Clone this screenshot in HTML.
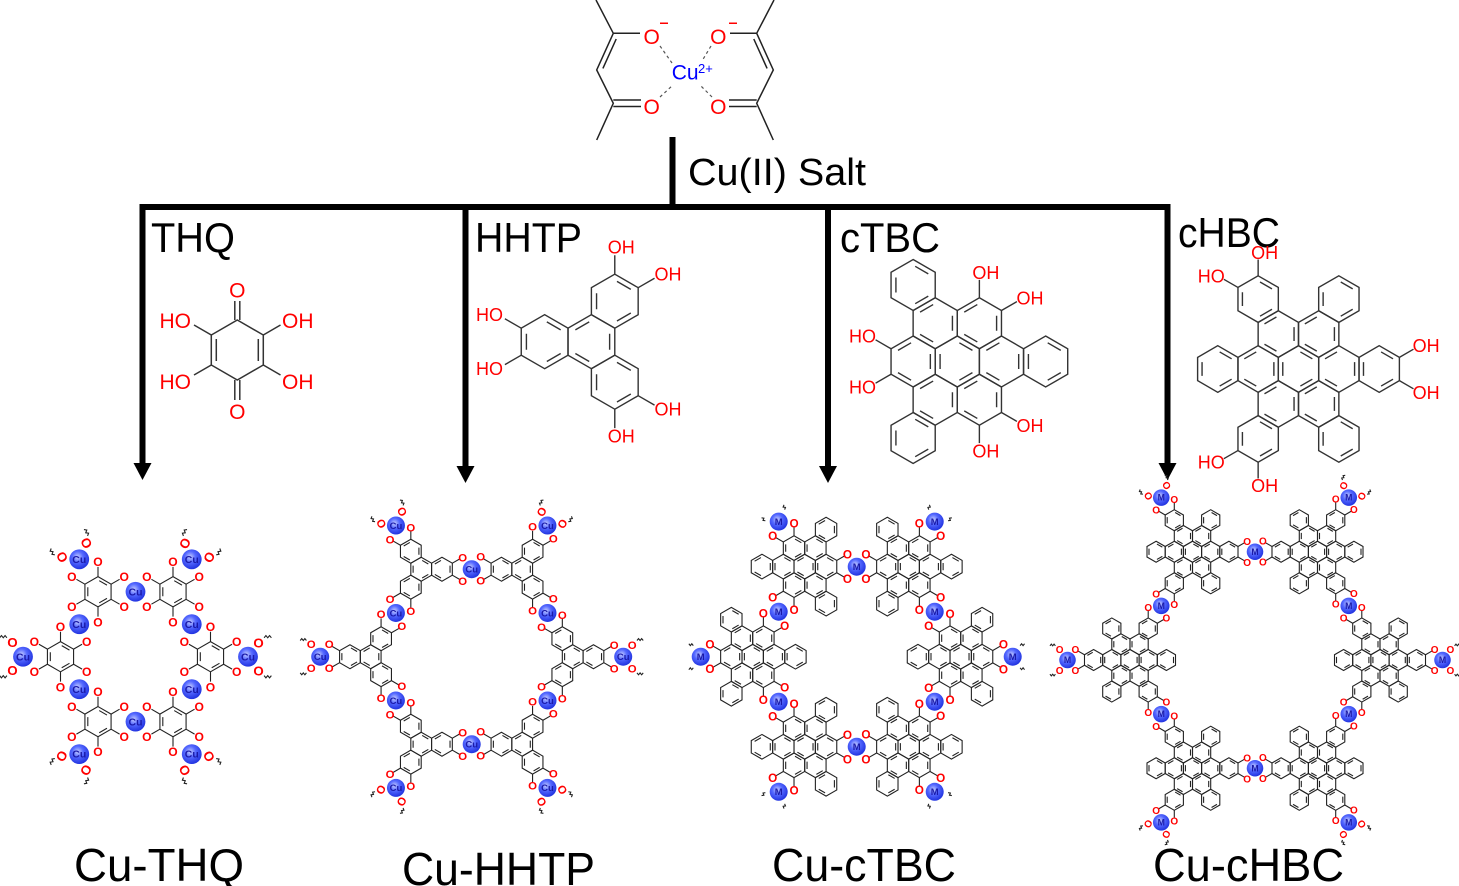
<!DOCTYPE html>
<html><head><meta charset="utf-8"><style>html,body{margin:0;padding:0;background:#fff}svg{display:block}</style></head>
<body>
<svg xmlns="http://www.w3.org/2000/svg" width="1459" height="886" viewBox="0 0 1459 886" font-family="'Liberation Sans', Arial, sans-serif">
<defs>
<radialGradient id="ball" cx="42%" cy="38%" r="62%"><stop offset="0" stop-color="#c4ccff"/><stop offset="0.45" stop-color="#5468ff"/><stop offset="1" stop-color="#2234e0"/></radialGradient>
<path id="hx" d="M0,-10L8.66,-5L8.66,5L0,10L-8.66,5L-8.66,-5Z" fill="none" vector-effect="non-scaling-stroke"/>
<g id="ra" fill="none"><use href="#hx"/><path d="M0.81,-7.33L5.94,-4.37M5.94,4.37L0.81,7.33M-6.75,2.96L-6.75,-2.96" vector-effect="non-scaling-stroke"/></g>
<g id="rb" fill="none"><use href="#hx"/><path d="M6.75,-2.96L6.75,2.96M-0.81,7.33L-5.94,4.37M-5.94,-4.37L-0.81,-7.33" vector-effect="non-scaling-stroke"/></g>

<g id="tp" fill="none">
<use href="#ra"/>
<use href="#rb" x="17.32" y="0"/><use href="#rb" x="-8.66" y="15"/><use href="#rb" x="-8.66" y="-15"/>
<path d="M25.98,-5L32.04,-8.5M25.98,5L32.04,8.5M-8.66,25L-8.66,32M-17.32,20L-23.38,23.5M-17.32,-20L-23.38,-23.5M-8.66,-25L-8.66,-32" vector-effect="non-scaling-stroke"/>
</g>
<g id="tpO" fill="#f00" stroke="none" font-size="9.5" font-weight="bold" text-anchor="middle">
<text x="34.64" y="-6.6">O</text><text x="34.64" y="13.4">O</text><text x="-8.66" y="38.4">O</text><text x="-25.98" y="28.4">O</text><text x="-25.98" y="-21.6">O</text><text x="-8.66" y="-31.6">O</text>
</g>

<g id="ctbc" fill="none">
<use href="#ra"/>
<use href="#rb" x="17.32" y="0"/><use href="#rb" x="8.66" y="15"/><use href="#rb" x="-8.66" y="15"/><use href="#rb" x="-17.32" y="0"/><use href="#rb" x="-8.66" y="-15"/><use href="#rb" x="8.66" y="-15"/>
<use href="#ra" x="34.64" y="0"/><use href="#ra" x="-17.32" y="30"/><use href="#ra" x="-17.32" y="-30"/>
<path d="M17.32,20L23.38,23.5M8.66,25L8.66,32M-25.98,5L-32.04,8.5M-25.98,-5L-32.04,-8.5M8.66,-25L8.66,-32M17.32,-20L23.38,-23.5" vector-effect="non-scaling-stroke"/>
</g>
<g id="ctbcO" fill="#f00" stroke="none" font-size="9.5" font-weight="bold" text-anchor="middle">
<text x="25.98" y="28.4">O</text><text x="8.66" y="38.4">O</text><text x="-34.64" y="13.4">O</text><text x="-34.64" y="-6.6">O</text><text x="8.66" y="-31.6">O</text><text x="25.98" y="-21.6">O</text>
</g>

<g id="chbc" fill="none">
<use href="#ra"/>
<use href="#rb" x="17.32" y="0"/><use href="#rb" x="8.66" y="15"/><use href="#rb" x="-8.66" y="15"/><use href="#rb" x="-17.32" y="0"/><use href="#rb" x="-8.66" y="-15"/><use href="#rb" x="8.66" y="-15"/>
<use href="#ra" x="34.64" y="0"/><use href="#ra" x="17.32" y="30"/><use href="#ra" x="-17.32" y="30"/><use href="#ra" x="-34.64" y="0"/><use href="#ra" x="-17.32" y="-30"/><use href="#ra" x="17.32" y="-30"/>
<path d="M43.3,-5L49.36,-8.5M43.3,5L49.36,8.5M-17.32,40L-17.32,47M-25.98,35L-32.04,38.5M-25.98,-35L-32.04,-38.5M-17.32,-40L-17.32,-47" vector-effect="non-scaling-stroke"/>
</g>
<g id="chbcO" fill="#f00" stroke="none" font-size="9.5" font-weight="bold" text-anchor="middle">
<text x="51.96" y="-6.6">O</text><text x="51.96" y="13.4">O</text><text x="-17.32" y="53.4">O</text><text x="-34.64" y="43.4">O</text><text x="-34.64" y="-36.6">O</text><text x="-17.32" y="-46.6">O</text>
</g>

<g id="thq" fill="none">
<use href="#ra"/>
<path d="M0,-10L0,-16.5M8.66,-5L14.29,-8.25M8.66,5L14.29,8.25M0,10L0,16.5M-8.66,5L-14.29,8.25M-8.66,-5L-14.29,-8.25" vector-effect="non-scaling-stroke"/>
</g>
<g id="thqO" fill="#f00" stroke="none" font-size="8" font-weight="bold" text-anchor="middle">
<text x="0" y="-17.1">O</text><text x="17.32" y="-7.1">O</text><text x="17.32" y="12.9">O</text><text x="0" y="22.9">O</text><text x="-17.32" y="12.9">O</text><text x="-17.32" y="-7.1">O</text>
</g>

<g id="ext">
<g fill="#f00" stroke="none" font-size="9.5" font-weight="bold" text-anchor="middle"><text x="7.5" y="-6.6">O</text><text x="7.5" y="13.4">O</text></g>
<path d="M11.5,-13.5l1.3,-1.6l1.3,1.6l1.3,-1.6l1.3,1.6M11.5,13.5l1.3,1.6l1.3,-1.6l1.3,1.6l1.3,-1.6" fill="none" vector-effect="non-scaling-stroke"/>
</g>
<g id="extS"><path d="M6,-9l1.2,-1.5l1.2,1.5l1.2,-1.5M6,9l1.2,1.5l1.2,-1.5l1.2,1.5" fill="none" vector-effect="non-scaling-stroke"/></g>

<g id="cu"><circle r="9" fill="url(#ball)" stroke="none"/><text y="3.3" font-size="9.5" font-weight="bold" fill="#1a1aa8" stroke="none" text-anchor="middle">Cu</text></g>
<g id="mm"><circle r="9" fill="url(#ball)" stroke="none"/><text y="3.4" font-size="9.5" font-weight="bold" fill="#1a1aa8" stroke="none" text-anchor="middle">M</text></g>
</defs>

<!-- Cu(acac)2 -->
<g stroke="#222" stroke-width="1.5" fill="none">
<path d="M596,0L613.3,33.3L640,33.3M613.3,33.3L596.7,70L613.3,103.3L596.7,140M616.2,39L602.9,68.4M613.3,100L641,100M613.3,106.5L641,106.5"/>
<path d="M774,0L756.7,33.3L730,33.3M756.7,33.3L773.3,70L756.7,103.3L773.3,140M753.8,39L767.1,68.4M756.7,100L729,100M756.7,106.5L729,106.5"/>
<path d="M660,46L672,63M660,97L673,85M711,46L702,61M712,97L700,85" stroke="#555" stroke-width="1.2" stroke-dasharray="3,3"/>
<path d="M660,23.3L668,23.3M729,23.3L737,23.3" stroke="#f00"/>
</g>
<g font-size="21" fill="#f00" text-anchor="middle">
<text x="651.7" y="44.2">O</text><text x="718.3" y="44.2">O</text><text x="651.7" y="114.2">O</text><text x="718.3" y="114.2">O</text>
</g>
<text x="671.7" y="79.3" font-size="21" fill="#0000ff">Cu</text>
<text x="698" y="73" font-size="13" fill="#0000ff">2+</text>

<!-- connector lines and arrows -->
<g fill="#000">
<rect x="669.5" y="137" width="6" height="73"/>
<rect x="139.5" y="204" width="1031" height="6"/>
<rect x="139.5" y="204" width="6" height="262"/>
<polygon points="133.5,463 151.5,463 142.5,480"/>
<rect x="462.5" y="204" width="6" height="265"/>
<polygon points="456.5,466 474.5,466 465.5,483"/>
<rect x="825" y="204" width="6" height="265"/>
<polygon points="819,466 837,466 828,483"/>
<rect x="1164.5" y="204" width="6" height="262"/>
<polygon points="1158.5,463 1176.5,463 1167.5,480"/>
</g>

<g font-size="42" fill="#000">
<text x="688" y="185" font-size="38" textLength="178" lengthAdjust="spacingAndGlyphs">Cu(II) Salt</text>
<text x="151" y="252" textLength="84" lengthAdjust="spacingAndGlyphs">THQ</text>
<text x="475" y="252" textLength="107" lengthAdjust="spacingAndGlyphs">HHTP</text>
<text x="840" y="252" textLength="100" lengthAdjust="spacingAndGlyphs">cTBC</text>
<text x="1178" y="247" textLength="102" lengthAdjust="spacingAndGlyphs">cHBC</text>
</g>

<!-- THQ molecule -->
<g stroke="#333" stroke-width="1.5" fill="none">
<path d="M237.3,320L263.3,335L263.3,365L237.3,380L211.3,365L211.3,335Z"/>
<path d="M258.3,339L258.3,361M216.3,339L216.3,361"/>
<path d="M234.8,320L234.8,301M239.8,320L239.8,301M234.8,380L234.8,400M239.8,380L239.8,400"/>
<path d="M263.3,335L280.5,325M263.3,365L280.5,375M211.3,335L194,325M211.3,365L194,375"/>
</g>
<g font-size="21" fill="#f00">
<text x="237.3" y="297.5" text-anchor="middle">O</text>
<text x="237.3" y="419" text-anchor="middle">O</text>
<text x="282" y="328">OH</text>
<text x="282" y="389">OH</text>
<text x="191" y="328" text-anchor="end">HO</text>
<text x="191" y="389" text-anchor="end">HO</text>
</g>

<!-- HHTP molecule -->
<g transform="translate(591.4,341.7) rotate(180) scale(2.7)" stroke="#333" stroke-width="1.4"><use href="#tp"/></g>
<g font-size="18" fill="#f00">
<text x="607.8" y="253.7">OH</text><text x="654.5" y="280.7">OH</text><text x="654.5" y="415.7">OH</text><text x="607.8" y="442.7">OH</text>
<text x="503" y="321.2" text-anchor="end">HO</text><text x="503" y="375.2" text-anchor="end">HO</text>
</g>

<!-- cTBC molecule -->
<g transform="translate(957.3,361.5) scale(2.55)" stroke="#333" stroke-width="1.4"><use href="#ctbc"/></g>
<g font-size="18" fill="#f00">
<text x="972.4" y="278.75">OH</text><text x="1016.5" y="304.25">OH</text><text x="1016.5" y="431.75">OH</text><text x="972.4" y="457.25">OH</text>
<text x="876" y="342.5" text-anchor="end">HO</text><text x="876" y="393.5" text-anchor="end">HO</text>
</g>

<!-- cHBC molecule -->
<g transform="translate(1298.5,369) scale(2.33)" stroke="#333" stroke-width="1.4"><use href="#chbc"/></g>
<g font-size="18" fill="#f00">
<text x="1412.6" y="352.2">OH</text><text x="1412.6" y="398.8">OH</text><text x="1251.1" y="492">OH</text><text x="1251.1" y="259">OH</text>
<text x="1224.8" y="468.7" text-anchor="end">HO</text><text x="1224.8" y="282.3" text-anchor="end">HO</text>
</g>

<!-- Cu-THQ framework -->
<g stroke="#222" stroke-width="1.1">
<g transform="translate(98,591.75) scale(1.51)"><use href="#thq"/><use href="#thqO"/></g>
<g transform="translate(173,591.75) scale(1.51)"><use href="#thq"/><use href="#thqO"/></g>
<g transform="translate(210.5,656.7) scale(1.51)"><use href="#thq"/><use href="#thqO"/></g>
<g transform="translate(173,721.65) scale(1.51)"><use href="#thq"/><use href="#thqO"/></g>
<g transform="translate(98,721.65) scale(1.51)"><use href="#thq"/><use href="#thqO"/></g>
<g transform="translate(60.5,656.7) scale(1.51)"><use href="#thq"/><use href="#thqO"/></g>
<g transform="translate(79.25,559.3) rotate(-120) scale(1.4)"><use href="#ext"/></g>
<g transform="translate(191.75,559.3) rotate(-60) scale(1.4)"><use href="#ext"/></g>
<g transform="translate(248,656.7) scale(1.4)"><use href="#ext"/></g>
<g transform="translate(191.75,754.1) rotate(60) scale(1.4)"><use href="#ext"/></g>
<g transform="translate(79.25,754.1) rotate(120) scale(1.4)"><use href="#ext"/></g>
<g transform="translate(23,656.7) rotate(180) scale(1.4)"><use href="#ext"/></g>
<use href="#cu" transform="translate(135.5,591.75) scale(1.1)"/>
<use href="#cu" transform="translate(191.75,624.2) scale(1.1)"/>
<use href="#cu" transform="translate(191.75,689.2) scale(1.1)"/>
<use href="#cu" transform="translate(135.5,721.65) scale(1.1)"/>
<use href="#cu" transform="translate(79.25,689.2) scale(1.1)"/>
<use href="#cu" transform="translate(79.25,624.2) scale(1.1)"/>
<use href="#cu" transform="translate(79.25,559.3) scale(1.1)"/>
<use href="#cu" transform="translate(191.75,559.3) scale(1.1)"/>
<use href="#cu" transform="translate(248,656.7) scale(1.1)"/>
<use href="#cu" transform="translate(191.75,754.1) scale(1.1)"/>
<use href="#cu" transform="translate(79.25,754.1) scale(1.1)"/>
<use href="#cu" transform="translate(23,656.7) scale(1.1)"/>
</g>

<!-- Cu-HHTP framework -->
<g stroke="#222" stroke-width="1.1">
<g transform="translate(421.2,569.2) scale(1.198)"><use href="#tp"/><use href="#tpO"/></g>
<g transform="translate(522.2,569.2) rotate(180) scale(1.198)"><use href="#tp"/><use href="#tpO"/></g>
<g transform="translate(572.7,656.7) scale(1.198)"><use href="#tp"/><use href="#tpO"/></g>
<g transform="translate(522.2,744.2) rotate(180) scale(1.198)"><use href="#tp"/><use href="#tpO"/></g>
<g transform="translate(421.2,744.2) scale(1.198)"><use href="#tp"/><use href="#tpO"/></g>
<g transform="translate(370.7,656.7) rotate(180) scale(1.198)"><use href="#tp"/><use href="#tpO"/></g>
<g transform="translate(395.95,525.5) rotate(-120) scale(1.198)"><use href="#ext"/></g>
<g transform="translate(547.45,525.5) rotate(-60) scale(1.198)"><use href="#ext"/></g>
<g transform="translate(623.2,656.7) scale(1.198)"><use href="#ext"/></g>
<g transform="translate(547.45,787.9) rotate(60) scale(1.198)"><use href="#ext"/></g>
<g transform="translate(395.95,787.9) rotate(120) scale(1.198)"><use href="#ext"/></g>
<g transform="translate(320.2,656.7) rotate(180) scale(1.198)"><use href="#ext"/></g>
<use href="#cu" transform="translate(471.7,569.2)"/>
<use href="#cu" transform="translate(547.5,612.95)"/>
<use href="#cu" transform="translate(547.5,700.45)"/>
<use href="#cu" transform="translate(471.7,744.2)"/>
<use href="#cu" transform="translate(395.9,700.45)"/>
<use href="#cu" transform="translate(395.9,612.95)"/>
<use href="#cu" transform="translate(395.95,525.5)"/>
<use href="#cu" transform="translate(547.45,525.5)"/>
<use href="#cu" transform="translate(623.2,656.7)"/>
<use href="#cu" transform="translate(547.45,787.9)"/>
<use href="#cu" transform="translate(395.95,787.9)"/>
<use href="#cu" transform="translate(320.2,656.7)"/>
</g>

<!-- Cu-cTBC framework -->
<g stroke="#222" stroke-width="1.1">
<g transform="translate(804.7,566.6) rotate(180) scale(1.234)"><use href="#ctbc"/><use href="#ctbcO"/></g>
<g transform="translate(908.7,566.6) scale(1.234)"><use href="#ctbc"/><use href="#ctbcO"/></g>
<g transform="translate(960.7,656.7) rotate(180) scale(1.234)"><use href="#ctbc"/><use href="#ctbcO"/></g>
<g transform="translate(908.7,746.8) scale(1.234)"><use href="#ctbc"/><use href="#ctbcO"/></g>
<g transform="translate(804.7,746.8) rotate(180) scale(1.234)"><use href="#ctbc"/><use href="#ctbcO"/></g>
<g transform="translate(752.7,656.7) scale(1.234)"><use href="#ctbc"/><use href="#ctbcO"/></g>
<g transform="translate(778.7,521.6) rotate(-120) scale(1.234)"><use href="#extS"/></g>
<g transform="translate(934.7,521.6) rotate(-60) scale(1.234)"><use href="#extS"/></g>
<g transform="translate(1012.7,656.7) scale(1.234)"><use href="#extS"/></g>
<g transform="translate(934.7,791.8) rotate(60) scale(1.234)"><use href="#extS"/></g>
<g transform="translate(778.7,791.8) rotate(120) scale(1.234)"><use href="#extS"/></g>
<g transform="translate(700.7,656.7) rotate(180) scale(1.234)"><use href="#extS"/></g>
<use href="#mm" transform="translate(856.7,566.7)"/>
<use href="#mm" transform="translate(934.7,611.7)"/>
<use href="#mm" transform="translate(934.7,701.7)"/>
<use href="#mm" transform="translate(856.7,746.7)"/>
<use href="#mm" transform="translate(778.7,701.7)"/>
<use href="#mm" transform="translate(778.7,611.7)"/>
<use href="#mm" transform="translate(778.7,521.6)"/>
<use href="#mm" transform="translate(934.7,521.6)"/>
<use href="#mm" transform="translate(1012.7,656.7)"/>
<use href="#mm" transform="translate(934.7,791.8)"/>
<use href="#mm" transform="translate(778.7,791.8)"/>
<use href="#mm" transform="translate(700.7,656.7)"/>
</g>

<!-- Cu-cHBC framework -->
<g stroke="#222" stroke-width="1.1">
<g transform="translate(1192.5,551.75) scale(1.051)"><use href="#chbc"/><use href="#chbcO"/></g>
<g transform="translate(1317.5,551.75) rotate(180) scale(1.051)"><use href="#chbc"/><use href="#chbcO"/></g>
<g transform="translate(1380,660) scale(1.051)"><use href="#chbc"/><use href="#chbcO"/></g>
<g transform="translate(1317.5,768.25) rotate(180) scale(1.051)"><use href="#chbc"/><use href="#chbcO"/></g>
<g transform="translate(1192.5,768.25) scale(1.051)"><use href="#chbc"/><use href="#chbcO"/></g>
<g transform="translate(1130,660) rotate(180) scale(1.051)"><use href="#chbc"/><use href="#chbcO"/></g>
<g transform="translate(1161.25,497.6) rotate(-120) scale(1.051)"><use href="#ext"/></g>
<g transform="translate(1348.75,497.6) rotate(-60) scale(1.051)"><use href="#ext"/></g>
<g transform="translate(1442.5,660) scale(1.051)"><use href="#ext"/></g>
<g transform="translate(1348.75,822.4) rotate(60) scale(1.051)"><use href="#ext"/></g>
<g transform="translate(1161.25,822.4) rotate(120) scale(1.051)"><use href="#ext"/></g>
<g transform="translate(1067.5,660) rotate(180) scale(1.051)"><use href="#ext"/></g>
<use href="#mm" transform="translate(1255,551.75) scale(0.92)"/>
<use href="#mm" transform="translate(1348.75,605.9) scale(0.92)"/>
<use href="#mm" transform="translate(1348.75,714.1) scale(0.92)"/>
<use href="#mm" transform="translate(1255,768.25) scale(0.92)"/>
<use href="#mm" transform="translate(1161.25,714.1) scale(0.92)"/>
<use href="#mm" transform="translate(1161.25,605.9) scale(0.92)"/>
<use href="#mm" transform="translate(1161.25,497.6) scale(0.92)"/>
<use href="#mm" transform="translate(1348.75,497.6) scale(0.92)"/>
<use href="#mm" transform="translate(1442.5,660) scale(0.92)"/>
<use href="#mm" transform="translate(1348.75,822.4) scale(0.92)"/>
<use href="#mm" transform="translate(1161.25,822.4) scale(0.92)"/>
<use href="#mm" transform="translate(1067.5,660) scale(0.92)"/>
</g>

<!-- bottom labels -->
<g font-size="46" fill="#000">
<text x="74" y="881" textLength="170" lengthAdjust="spacingAndGlyphs">Cu-THQ</text>
<text x="402" y="885" textLength="193" lengthAdjust="spacingAndGlyphs">Cu-HHTP</text>
<text x="772" y="881" textLength="184" lengthAdjust="spacingAndGlyphs">Cu-cTBC</text>
<text x="1153" y="881" textLength="191" lengthAdjust="spacingAndGlyphs">Cu-cHBC</text>
</g>
</svg>
</body></html>
